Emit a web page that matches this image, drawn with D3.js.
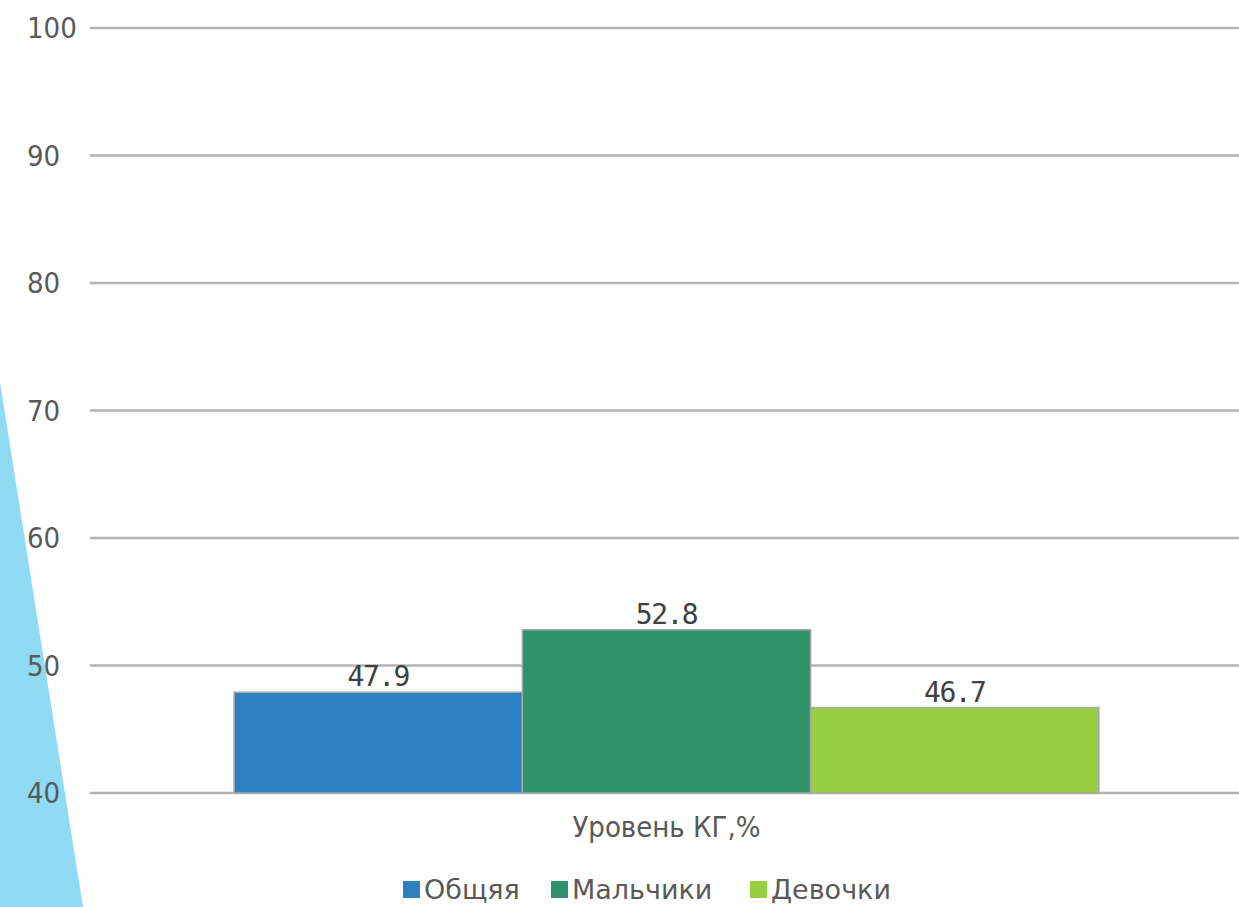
<!DOCTYPE html>
<html>
<head>
<meta charset="utf-8">
<script src="https://cdnjs.cloudflare.com/ajax/libs/d3/7.8.5/d3.min.js"></script>
<style>
  html, body { margin: 0; padding: 0; background: #fff; }
  svg { display: block; }
</style>
</head>
<body>
<svg id="chart" width="1239" height="907"></svg>
<script>
// data
const category = "Уровень КГ,%";
const seriesNames = ["Общяя", "Мальчики", "Девочки"];
const seriesValues = [47.9, 52.8, 46.7];
const seriesColors = ["#2e81c1", "#2e936b", "#96cf42"];
const yTicks = [40, 50, 60, 70, 80, 90, 100];

const svg = d3.select("svg#chart");
const width = 1239, height = 907;

// decorative wedge on the left
svg.append("path")
    .attr("d", d3.line()([[0, 382], [83, 907], [0, 907]]) + "Z")
    .attr("fill", "#8fdbf3");

const plot = { left: 90, right: 1243, top: 28, bottom: 793 };

const y = d3.scaleLinear().domain([40, 100]).range([plot.bottom, plot.top]);

// one category, bars take 3/4 of the band (gap width 100%)
const x0 = d3.scaleBand()
    .domain([category])
    .range([plot.left, plot.right])
    .paddingOuter(1 / 6)
    .paddingInner(0);

const x1 = d3.scaleBand()
    .domain(seriesNames)
    .range([0, x0.bandwidth()])
    .padding(0);

// gridlines
svg.append("g")
    .selectAll("line")
    .data(yTicks)
    .join("line")
    .attr("x1", plot.left)
    .attr("x2", width)
    .attr("y1", d => y(d))
    .attr("y2", d => y(d))
    .attr("stroke", "#b3b3b3")
    .attr("stroke-width", 2.5);

// y labels (left aligned like the original)
svg.append("g")
    .selectAll("text")
    .data(yTicks)
    .join("text")
    .attr("x", 27)
    .attr("y", d => y(d))
    .attr("dy", "0.36em")
    .attr("text-anchor", "start")
    .attr("font-family", "'DejaVu Sans Condensed', 'DejaVu Sans'")
    .attr("font-stretch", "condensed")
    .attr("font-size", 29)
    .attr("fill", "#595959")
    .text(d => d);

// bars
const bars = svg.append("g")
    .attr("transform", `translate(${x0(category)},0)`);

bars.selectAll("rect")
    .data(seriesValues)
    .join("rect")
    .attr("x", (d, i) => x1(seriesNames[i]))
    .attr("y", d => y(d))
    .attr("width", x1.bandwidth())
    .attr("height", d => y(40) - y(d))
    .attr("fill", (d, i) => seriesColors[i])
    .attr("stroke", "#a6a6a6")
    .attr("stroke-width", 1.5);

bars.selectAll("text")
    .data(seriesValues)
    .join("text")
    .attr("x", (d, i) => x1(seriesNames[i]) + x1.bandwidth() / 2)
    .attr("y", d => y(d) - 6)
    .attr("text-anchor", "middle")
    .attr("font-family", "'DejaVu Sans Mono'")
    .attr("font-size", 28)
    .attr("letter-spacing", -1.5)
    .attr("fill", "#404040")
    .text(d => d.toFixed(1));

// category label
svg.append("text")
    .attr("x", x0(category) + x0.bandwidth() / 2)
    .attr("y", 837)
    .attr("text-anchor", "middle")
    .attr("font-family", "'DejaVu Sans Condensed', 'DejaVu Sans'")
    .attr("font-stretch", "condensed")
    .attr("font-size", 29)
    .attr("fill", "#595959")
    .text(category);

// legend
const legendX = [403, 551, 750];
const legend = svg.append("g")
    .selectAll("g")
    .data(seriesNames)
    .join("g")
    .attr("transform", (d, i) => `translate(${legendX[i]},881)`);

legend.append("rect")
    .attr("width", 17)
    .attr("height", 17)
    .attr("fill", (d, i) => seriesColors[i]);

legend.append("text")
    .attr("x", 21)
    .attr("y", 18)
    .attr("font-family", "'DejaVu Sans'")
    .attr("font-size", 27)
    .attr("fill", "#595959")
    .text(d => d);
</script>
</body>
</html>
